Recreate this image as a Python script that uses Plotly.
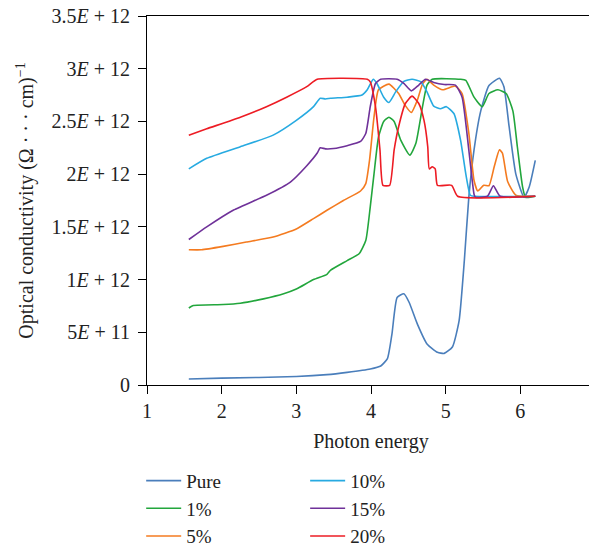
import plotly.graph_objects as go

# ---- data (photon energy in eV, conductivity in units of 1E12) ----
x_pure = [1.56, 2.0, 3.0, 3.41, 3.68, 3.99, 4.13, 4.22, 4.28, 4.35, 4.44, 4.51, 4.62, 4.75, 4.89, 4.98, 5.09, 5.18, 5.25, 5.31, 5.38, 5.47, 5.58, 5.72, 5.78, 5.85, 5.94, 6.05, 6.12, 6.2]
y_pure = [0.057, 0.065, 0.08, 0.098, 0.12, 0.152, 0.18, 0.25, 0.48, 0.83, 0.865, 0.785, 0.58, 0.39, 0.31, 0.30, 0.36, 0.61, 1.18, 1.78, 2.23, 2.6, 2.84, 2.91, 2.83, 2.45, 2.0, 1.78, 1.88, 2.13]

x_1 = [1.56, 1.62, 2.02, 2.25, 2.56, 2.83, 3.0, 3.23, 3.41, 3.46, 3.68, 3.84, 3.93, 3.99, 4.04, 4.1, 4.17, 4.24, 4.31, 4.4, 4.52, 4.6, 4.69, 4.75, 4.82, 5.2, 5.27, 5.38, 5.49, 5.58, 5.7, 5.81, 5.9, 5.96, 6.03, 6.07, 6.2]
y_1 = [0.73, 0.754, 0.763, 0.776, 0.817, 0.865, 0.91, 1.0, 1.05, 1.09, 1.18, 1.245, 1.37, 1.69, 2.0, 2.35, 2.5, 2.54, 2.5, 2.32, 2.18, 2.29, 2.64, 2.845, 2.9, 2.9, 2.89, 2.73, 2.64, 2.765, 2.80, 2.765, 2.6, 2.26, 1.88, 1.78, 1.79]

x_5 = [1.56, 1.73, 2.02, 2.33, 2.69, 3.0, 3.23, 3.41, 3.63, 3.86, 3.93, 3.98, 4.04, 4.1, 4.24, 4.37, 4.46, 4.54, 4.62, 4.69, 4.75, 4.84, 4.96, 5.13, 5.22, 5.31, 5.38, 5.43, 5.51, 5.58, 5.65, 5.72, 5.76, 5.83, 5.94, 6.2]
y_5 = [1.283, 1.283, 1.315, 1.356, 1.403, 1.48, 1.578, 1.657, 1.75, 1.84, 1.91, 2.13, 2.54, 2.8, 2.854, 2.765, 2.65, 2.585, 2.70, 2.854, 2.9, 2.845, 2.8, 2.835, 2.765, 2.39, 1.94, 1.84, 1.894, 1.89, 2.07, 2.23, 2.2, 1.93, 1.80, 1.79]

x_10 = [1.56, 1.8, 2.25, 2.69, 3.0, 3.23, 3.32, 3.39, 3.46, 3.68, 3.88, 3.95, 4.03, 4.08, 4.17, 4.24, 4.33, 4.44, 4.55, 4.67, 4.75, 4.84, 4.93, 5.01, 5.11, 5.2, 5.27, 5.33, 5.38, 6.2]
y_10 = [2.05, 2.15, 2.26, 2.37, 2.51, 2.64, 2.72, 2.713, 2.72, 2.73, 2.75, 2.8, 2.9, 2.86, 2.73, 2.68, 2.78, 2.88, 2.9, 2.875, 2.78, 2.645, 2.62, 2.64, 2.575, 2.32, 2.0, 1.8, 1.79, 1.79]

x_15 = [1.56, 1.8, 2.16, 2.6, 2.92, 3.14, 3.28, 3.32, 3.39, 3.5, 3.68, 3.86, 3.93, 3.99, 4.06, 4.13, 4.35, 4.44, 4.54, 4.64, 4.73, 4.84, 4.98, 5.13, 5.22, 5.31, 5.38, 5.4, 5.56, 5.64, 5.73, 6.2]
y_15 = [1.38, 1.5, 1.66, 1.8, 1.925, 2.08, 2.2, 2.25, 2.24, 2.243, 2.27, 2.31, 2.385, 2.64, 2.86, 2.9, 2.9, 2.86, 2.79, 2.845, 2.9, 2.87, 2.85, 2.845, 2.73, 2.23, 1.81, 1.78, 1.79, 1.89, 1.79, 1.79]

x_20 = [1.56, 1.8, 2.25, 2.6, 2.87, 3.14, 3.28, 3.95, 3.99, 4.06, 4.12, 4.16, 4.25, 4.31, 4.37, 4.46, 4.55, 4.64, 4.71, 4.76, 4.78, 4.82, 4.86, 4.89, 5.08, 5.16, 6.2]
y_20 = [2.37, 2.43, 2.54, 2.64, 2.73, 2.83, 2.9, 2.9, 2.875, 2.64, 2.23, 1.894, 1.894, 2.23, 2.45, 2.67, 2.74, 2.67, 2.51, 2.26, 2.05, 2.07, 2.05, 1.894, 1.894, 1.79, 1.79]

series_names = ["Pure", "1%", "5%", "10%", "15%", "20%"]
series_x = [x_pure, x_1, x_5, x_10, x_15, x_20]
series_y = [y_pure, y_1, y_5, y_10, y_15, y_20]
colors = ["#4a7ebb", "#22a63c", "#f47b20", "#27aae1", "#6f3199", "#ed1c24"]
legend_ids = ["legend", "legend", "legend", "legend2", "legend2", "legend2"]

y_tick_vals = [0, 0.5, 1.0, 1.5, 2.0, 2.5, 3.0, 3.5]
y_tick_text = ["0", "5<i>E</i> + 11", "1<i>E</i> + 12", "1.5<i>E</i> + 12", "2<i>E</i> + 12",
               "2.5<i>E</i> + 12", "3<i>E</i> + 12", "3.5<i>E</i> + 12"]
x_tick_vals = [1, 2, 3, 4, 5, 6, 7]

FONT = "Liberation Serif"
TXT = "#222"

fig = go.Figure()
for name, xs, ys, c, lg in zip(series_names, series_x, series_y, colors, legend_ids):
    fig.add_trace(go.Scatter(x=xs, y=ys, mode="lines", name=name,
                             line=dict(color=c, width=1.6, shape="spline", smoothing=0.5),
                             legend=lg))

axis_common = dict(showline=True, linecolor="black", linewidth=1, mirror=True,
                   ticks="outside", ticklen=8, tickcolor="black", tickwidth=1,
                   showgrid=False, zeroline=False, automargin=False,
                   ticklabeloverflow="allow",
                   tickfont=dict(family=FONT, size=20, color=TXT))

fig.update_xaxes(range=[1, 7], tickvals=x_tick_vals,
                 title=dict(text="Photon energy", font=dict(family=FONT, size=20, color=TXT), standoff=12),
                 **axis_common)
fig.update_yaxes(range=[0, 3.5], tickvals=y_tick_vals, ticktext=y_tick_text, ticklabelstandoff=4,
                 title=dict(text="Optical conductivity (Ω · · · cm)<sup>−1</sup>",
                            font=dict(family=FONT, size=20, color=TXT), standoff=12),
                 **axis_common)

legend_style = dict(orientation="v", xanchor="left", yanchor="top", y=-0.208,
                    font=dict(family=FONT, size=19, color=TXT),
                    bgcolor="rgba(0,0,0,0)", itemwidth=35, tracegroupgap=0)
# page body has an 8px default margin, so the figure is sized to fit the window from (8, 8)
fig.update_layout(
    width=589, height=540,
    margin=dict(l=139, r=2, t=8, b=163, autoexpand=False),
    plot_bgcolor="white", paper_bgcolor="white",
    legend=dict(x=-0.013, **legend_style),
    legend2=dict(x=0.353, **legend_style),
)

fig.write_html("out.html")
